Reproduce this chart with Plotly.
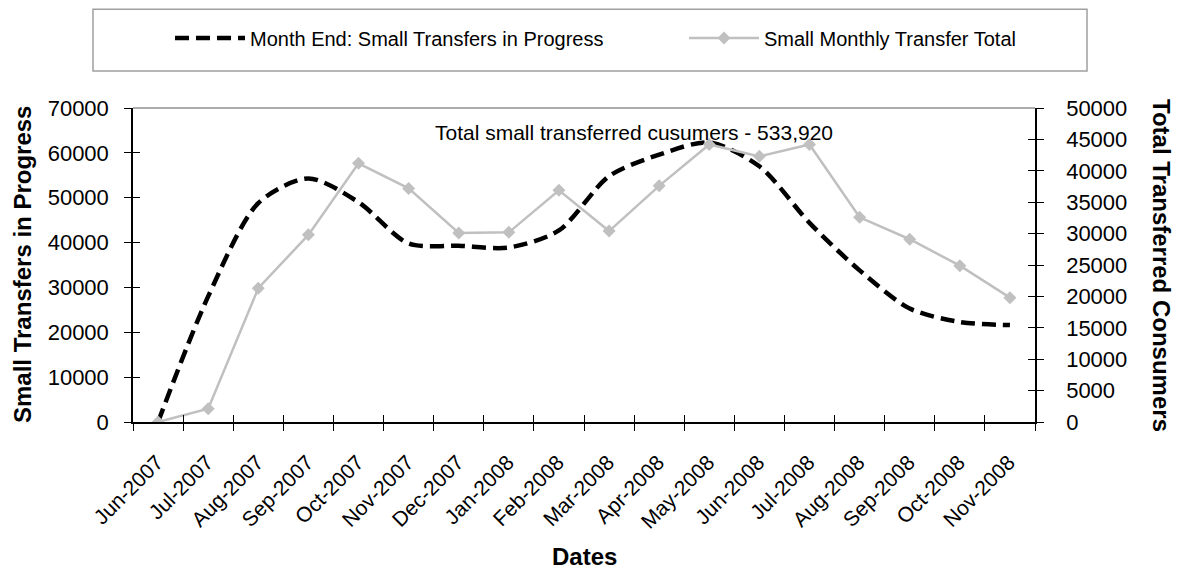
import plotly.graph_objects as go

months = ["Jun-2007", "Jul-2007", "Aug-2007", "Sep-2007", "Oct-2007", "Nov-2007",
          "Dec-2007", "Jan-2008", "Feb-2008", "Mar-2008", "Apr-2008", "May-2008",
          "Jun-2008", "Jul-2008", "Aug-2008", "Sep-2008", "Oct-2008", "Nov-2008"]
in_progress = [0, 28000, 48800, 54300, 49000, 39800, 39300, 38900, 42700,
               54800, 59600, 62300, 57000, 44400, 33800, 25300, 22300, 21600]
monthly_total = [0, 2100, 21300, 29800, 41200, 37200, 30100, 30200, 36900,
                 30400, 37600, 44200, 42300, 44200, 32600, 29100, 24900, 19800]
left_ticks = list(range(0, 70001, 10000))
right_ticks = list(range(0, 50001, 5000))

FONT = "Liberation Sans, Arial, sans-serif"
TICKFONT = dict(family=FONT, size=22, color="black")
XTICKFONT = dict(family=FONT, size=21, color="black")

# the page body adds an 8px offset; plot area in the reference spans x 133..1035, y 107..422
OFF = 8
PL, PT, PW, PH = 133 - OFF, 107 - OFF, 902, 315


def px(xr):
    return (xr - 133) / PW


def py(yr):
    return (422 - yr) / PH


fig = go.Figure()
fig.add_trace(go.Scatter(
    x=months, y=in_progress, name="Month End: Small Transfers in Progress",
    mode="lines", line=dict(color="black", width=4.5, dash="14px,7px",
                            shape="spline", smoothing=0.8),
    xaxis="x", yaxis="y", legend="legend"))
fig.add_trace(go.Scatter(
    x=months, y=monthly_total, name="Small Monthly Transfer Total",
    mode="lines+markers", line=dict(color="#C0C0C0", width=2.5),
    marker=dict(symbol="diamond", size=10, color="#C0C0C0"),
    xaxis="x", yaxis="y2", legend="legend2"))
# invisible helpers so the overlay axes (inner half of crossing ticks) get drawn
fig.add_trace(go.Scatter(x=months, y=in_progress, mode="lines", opacity=0,
                         showlegend=False, hoverinfo="skip", xaxis="x2", yaxis="y3"))
fig.add_trace(go.Scatter(x=months, y=monthly_total, mode="lines", opacity=0,
                         showlegend=False, hoverinfo="skip", xaxis="x2", yaxis="y4"))

axis_common = dict(showgrid=False, zeroline=False, tickcolor="black", tickwidth=1.3)

fig.update_layout(
    width=1182, height=571,
    margin=dict(l=PL, r=1182 - PL - PW, t=PT, b=571 - PT - PH),
    paper_bgcolor="white", plot_bgcolor="white",
    font=dict(family=FONT, size=21, color="black"),
    xaxis=dict(type="category", categoryorder="array", categoryarray=months,
               range=[-0.5, 17.5], tickson="boundaries", ticks="outside", ticklen=7,
               showline=True, linecolor="black", linewidth=1.5,
               tickangle=-45, tickfont=XTICKFONT, ticklabelstandoff=18,
               ticklabelshift=-1, **axis_common),
    xaxis2=dict(type="category", categoryorder="array", categoryarray=months,
                range=[-0.5, 17.5], tickson="boundaries", ticks="inside", ticklen=7,
                showline=False, showticklabels=False, overlaying="x", anchor="y",
                **axis_common),
    yaxis=dict(range=[0, 70000], tickvals=left_ticks, tickformat="d",
               ticks="outside", ticklen=7, showline=True, linecolor="black", linewidth=1.5,
               tickfont=TICKFONT, ticklabelstandoff=11, **axis_common),
    yaxis2=dict(range=[0, 50000], tickvals=right_ticks, tickformat="d",
                overlaying="y", side="right", anchor="x",
                ticks="outside", ticklen=7, showline=True, linecolor="black", linewidth=1.5,
                tickfont=TICKFONT, ticklabelstandoff=18, **axis_common),
    yaxis3=dict(range=[0, 70000], tickvals=left_ticks, overlaying="y", side="left",
                anchor="x2", ticks="inside", ticklen=7, showline=False,
                showticklabels=False, **axis_common),
    yaxis4=dict(range=[0, 50000], tickvals=right_ticks, overlaying="y", side="right",
                anchor="x2", ticks="inside", ticklen=7, showline=False,
                showticklabels=False, **axis_common),
    legend=dict(orientation="h", x=px(170), y=py(38),
                xanchor="left", yanchor="middle", bgcolor="rgba(0,0,0,0)",
                itemwidth=70, font=dict(family=FONT, size=20, color="black")),
    legend2=dict(orientation="h", x=px(684), y=py(38),
                 xanchor="left", yanchor="middle", bgcolor="rgba(0,0,0,0)",
                 itemwidth=70, font=dict(family=FONT, size=20, color="black")),
    showlegend=True,
    shapes=[
        dict(type="rect", xref="paper", yref="paper",
             x0=px(93), x1=px(1087), y0=py(70), y1=py(8),
             line=dict(color="#A0A0A0", width=1.5), fillcolor="rgba(0,0,0,0)"),
        dict(type="line", xref="paper", yref="paper", x0=0, x1=1, y0=1, y1=1,
             line=dict(color="#909090", width=1.5)),
    ],
    annotations=[
        dict(text="Total small transferred cusumers - 533,920", xref="paper", yref="paper",
             x=px(634), y=py(132), xanchor="center", yanchor="middle",
             showarrow=False, font=dict(family=FONT, size=21, color="black")),
        dict(text="<b>Small Transfers in Progress</b>", xref="paper", yref="paper",
             x=px(22), y=0.5, xanchor="center", yanchor="middle",
             textangle=-90, showarrow=False, font=dict(family=FONT, size=24, color="black")),
        dict(text="<b>Total Transferred Consumers</b>", xref="paper", yref="paper",
             x=px(1162), y=0.5, xanchor="center", yanchor="middle",
             textangle=90, showarrow=False, font=dict(family=FONT, size=24, color="black")),
        dict(text="<b>Dates</b>", xref="paper", yref="paper",
             x=0.5, y=py(557), xanchor="center", yanchor="middle",
             showarrow=False, font=dict(family=FONT, size=24, color="black")),
    ],
)

fig.write_html("out.html")
